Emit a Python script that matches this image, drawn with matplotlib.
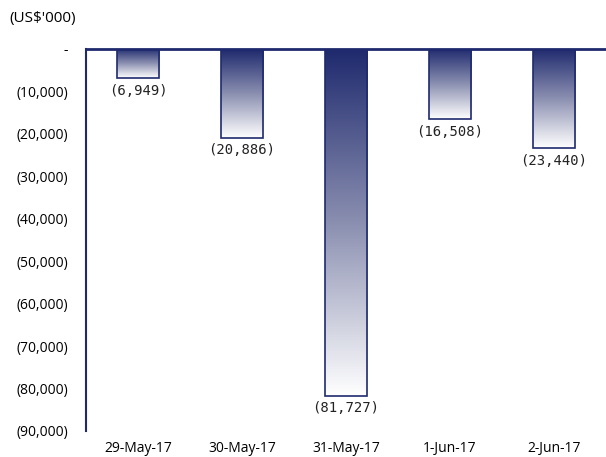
import numpy as np
import matplotlib
matplotlib.use("Agg")
import matplotlib.pyplot as plt
from matplotlib.colors import LinearSegmentedColormap

dates = ["29-May-17", "30-May-17", "31-May-17", "1-Jun-17", "2-Jun-17"]
values = [-6949, -20886, -81727, -16508, -23440]
yticks = [0, -10000, -20000, -30000, -40000, -50000, -60000, -70000, -80000, -90000]

navy = "#1F2A6E"
cmap = LinearSegmentedColormap.from_list("fade", [navy, "#8A8FB0", "#FFFFFF"])

plt.rcParams["font.family"] = ["Open Sans", "DejaVu Sans"]

fig = plt.figure(figsize=(6.06, 4.57), dpi=100)
ax = fig.add_axes([0.1419, 0.0569, 0.8581, 0.8359])

x = np.arange(len(dates))
width = 0.41
bars = ax.bar(x, values, width=width, facecolor="none", edgecolor=navy, linewidth=1.2, zorder=3)

grad = np.linspace(0, 1, 256).reshape(-1, 1)
for b, v in zip(bars, values):
    x0 = b.get_x()
    im = ax.imshow(grad, cmap=cmap, aspect="auto", extent=[x0, x0 + width, v, 0],
                   origin="upper", zorder=2, interpolation="bicubic")
    im.set_clip_path(b)
    ax.annotate(f"({abs(v):,})", (b.get_x() + width / 2, v), xytext=(0, -4),
                textcoords="offset points", ha="center", va="top", fontsize=10,
                family="DejaVu Sans Mono", color="#222222")

ax.set_xlim(-0.5, len(dates) - 0.5)
ax.set_ylim(-90000, 0)
ax.set_yticks(yticks)
ax.set_yticklabels(["-" if t == 0 else f"({abs(t):,})" for t in yticks], fontsize=10)
ax.set_xticks(x)
ax.set_xticklabels(dates, fontsize=10)
ax.tick_params(axis="both", length=0)
ax.tick_params(axis="y", pad=13)
ax.tick_params(axis="x", pad=7)

for s in ["right", "bottom"]:
    ax.spines[s].set_visible(False)
ax.spines["top"].set_color(navy)
ax.spines["top"].set_linewidth(2)
ax.spines["left"].set_color(navy)
ax.spines["left"].set_linewidth(1.5)

fig.text(0.015, 0.96, "(US$'000)", fontsize=11, ha="left", va="center")

fig.savefig("out.png", dpi=100)
